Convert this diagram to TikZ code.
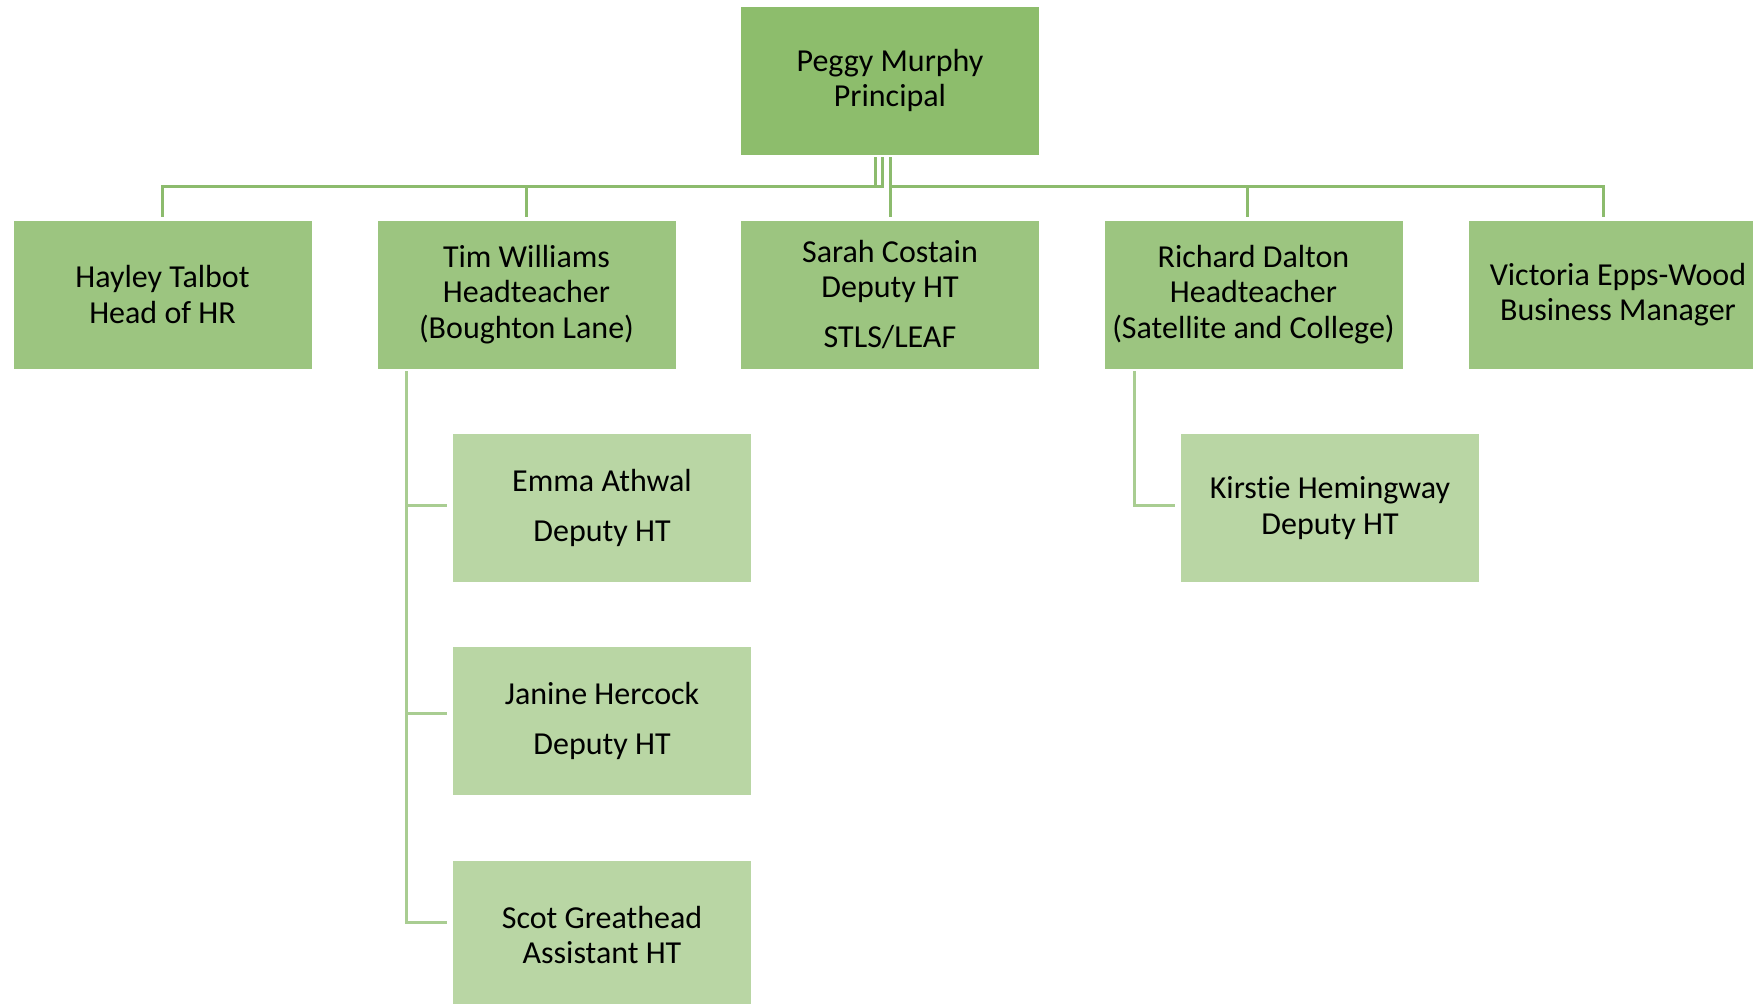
\documentclass[tikz,border=0pt]{standalone}
\usepackage{fontspec}
\setmainfont{Carlito}[Ligatures={NoCommon}]
\definecolor{topfill}{HTML}{8DBD6C}
\definecolor{midfill}{HTML}{9CC580}
\definecolor{lowfill}{HTML}{B9D6A4}
\definecolor{topline}{HTML}{8CBB6D}
\definecolor{lowline}{HTML}{A9CD92}
\begin{document}
\begin{tikzpicture}[x=0.5pt,y=-0.5pt,
  box/.style={rectangle, minimum width=149pt, minimum height=74pt, inner sep=0pt,
    align=center, font=\fontsize{16pt}{17.6pt}\selectfont, text=black},
  topbox/.style={box, fill=topfill},
  midbox/.style={box, fill=midfill},
  lowbox/.style={box, fill=lowfill},
  tline/.style={draw=topline, line width=1.5pt},
  lline/.style={draw=lowline, line width=1.5pt}]
\useasboundingbox (0,0) rectangle (1753,1003);
\node[topbox] (peggy) at (890,80.5) {Peggy Murphy\\Principal};
\node[midbox] (hayley) at (162.5,294.5) {Hayley Talbot\\Head of HR};
\node[midbox] (tim) at (526.5,294.5) {Tim Williams\\Headteacher\\(Boughton Lane)};
\node[midbox] (sarah) at (890,294.5) {Sarah Costain\\Deputy HT\\[7pt]STLS/LEAF};
\node[midbox] (richard) at (1253.5,294.5) {Richard Dalton\\Headteacher\\(Satellite and College)};
\node[midbox] (victoria) at (1618,294.5) {Victoria Epps-Wood\\Business Manager};
\node[lowbox] (emma) at (602,508) {Emma Athwal\\[7pt]Deputy HT};
\node[lowbox] (janine) at (602,721) {Janine Hercock\\[7pt]Deputy HT};
\node[lowbox] (scot) at (602,935) {Scot Greathead\\Assistant HT};
\node[lowbox] (kirstie) at (1330,508) {Kirstie Hemingway\\Deputy HT};
% top connectors
\coordinate (pl1) at (875,157);
\coordinate (pl2) at (882,157);
\coordinate (pr) at (890,157);
\draw[tline] (pl1) -- (875,186.5);
\draw[tline] (pl2) -- (882,186.5) -| (162,217);
\draw[tline] (526,186.5) -- (526,217);
\draw[tline] (pr) -- (890,217);
\draw[tline] (890,186.5) -| (1603,217);
\draw[tline] (1247,186.5) -- (1247,217);
% lower connectors
\coordinate (tstem) at (406,371);
\coordinate (rstem) at (1134,371);
\draw[lline] (tstem) |- ([xshift=-3pt]scot.west |- 0,922);
\draw[lline] (406,505) -- ([xshift=-3pt]emma.west |- 0,505);
\draw[lline] (406,713) -- ([xshift=-3pt]janine.west |- 0,713);
\draw[lline] (rstem) |- ([xshift=-3pt]kirstie.west |- 0,505);
\end{tikzpicture}
\end{document}
